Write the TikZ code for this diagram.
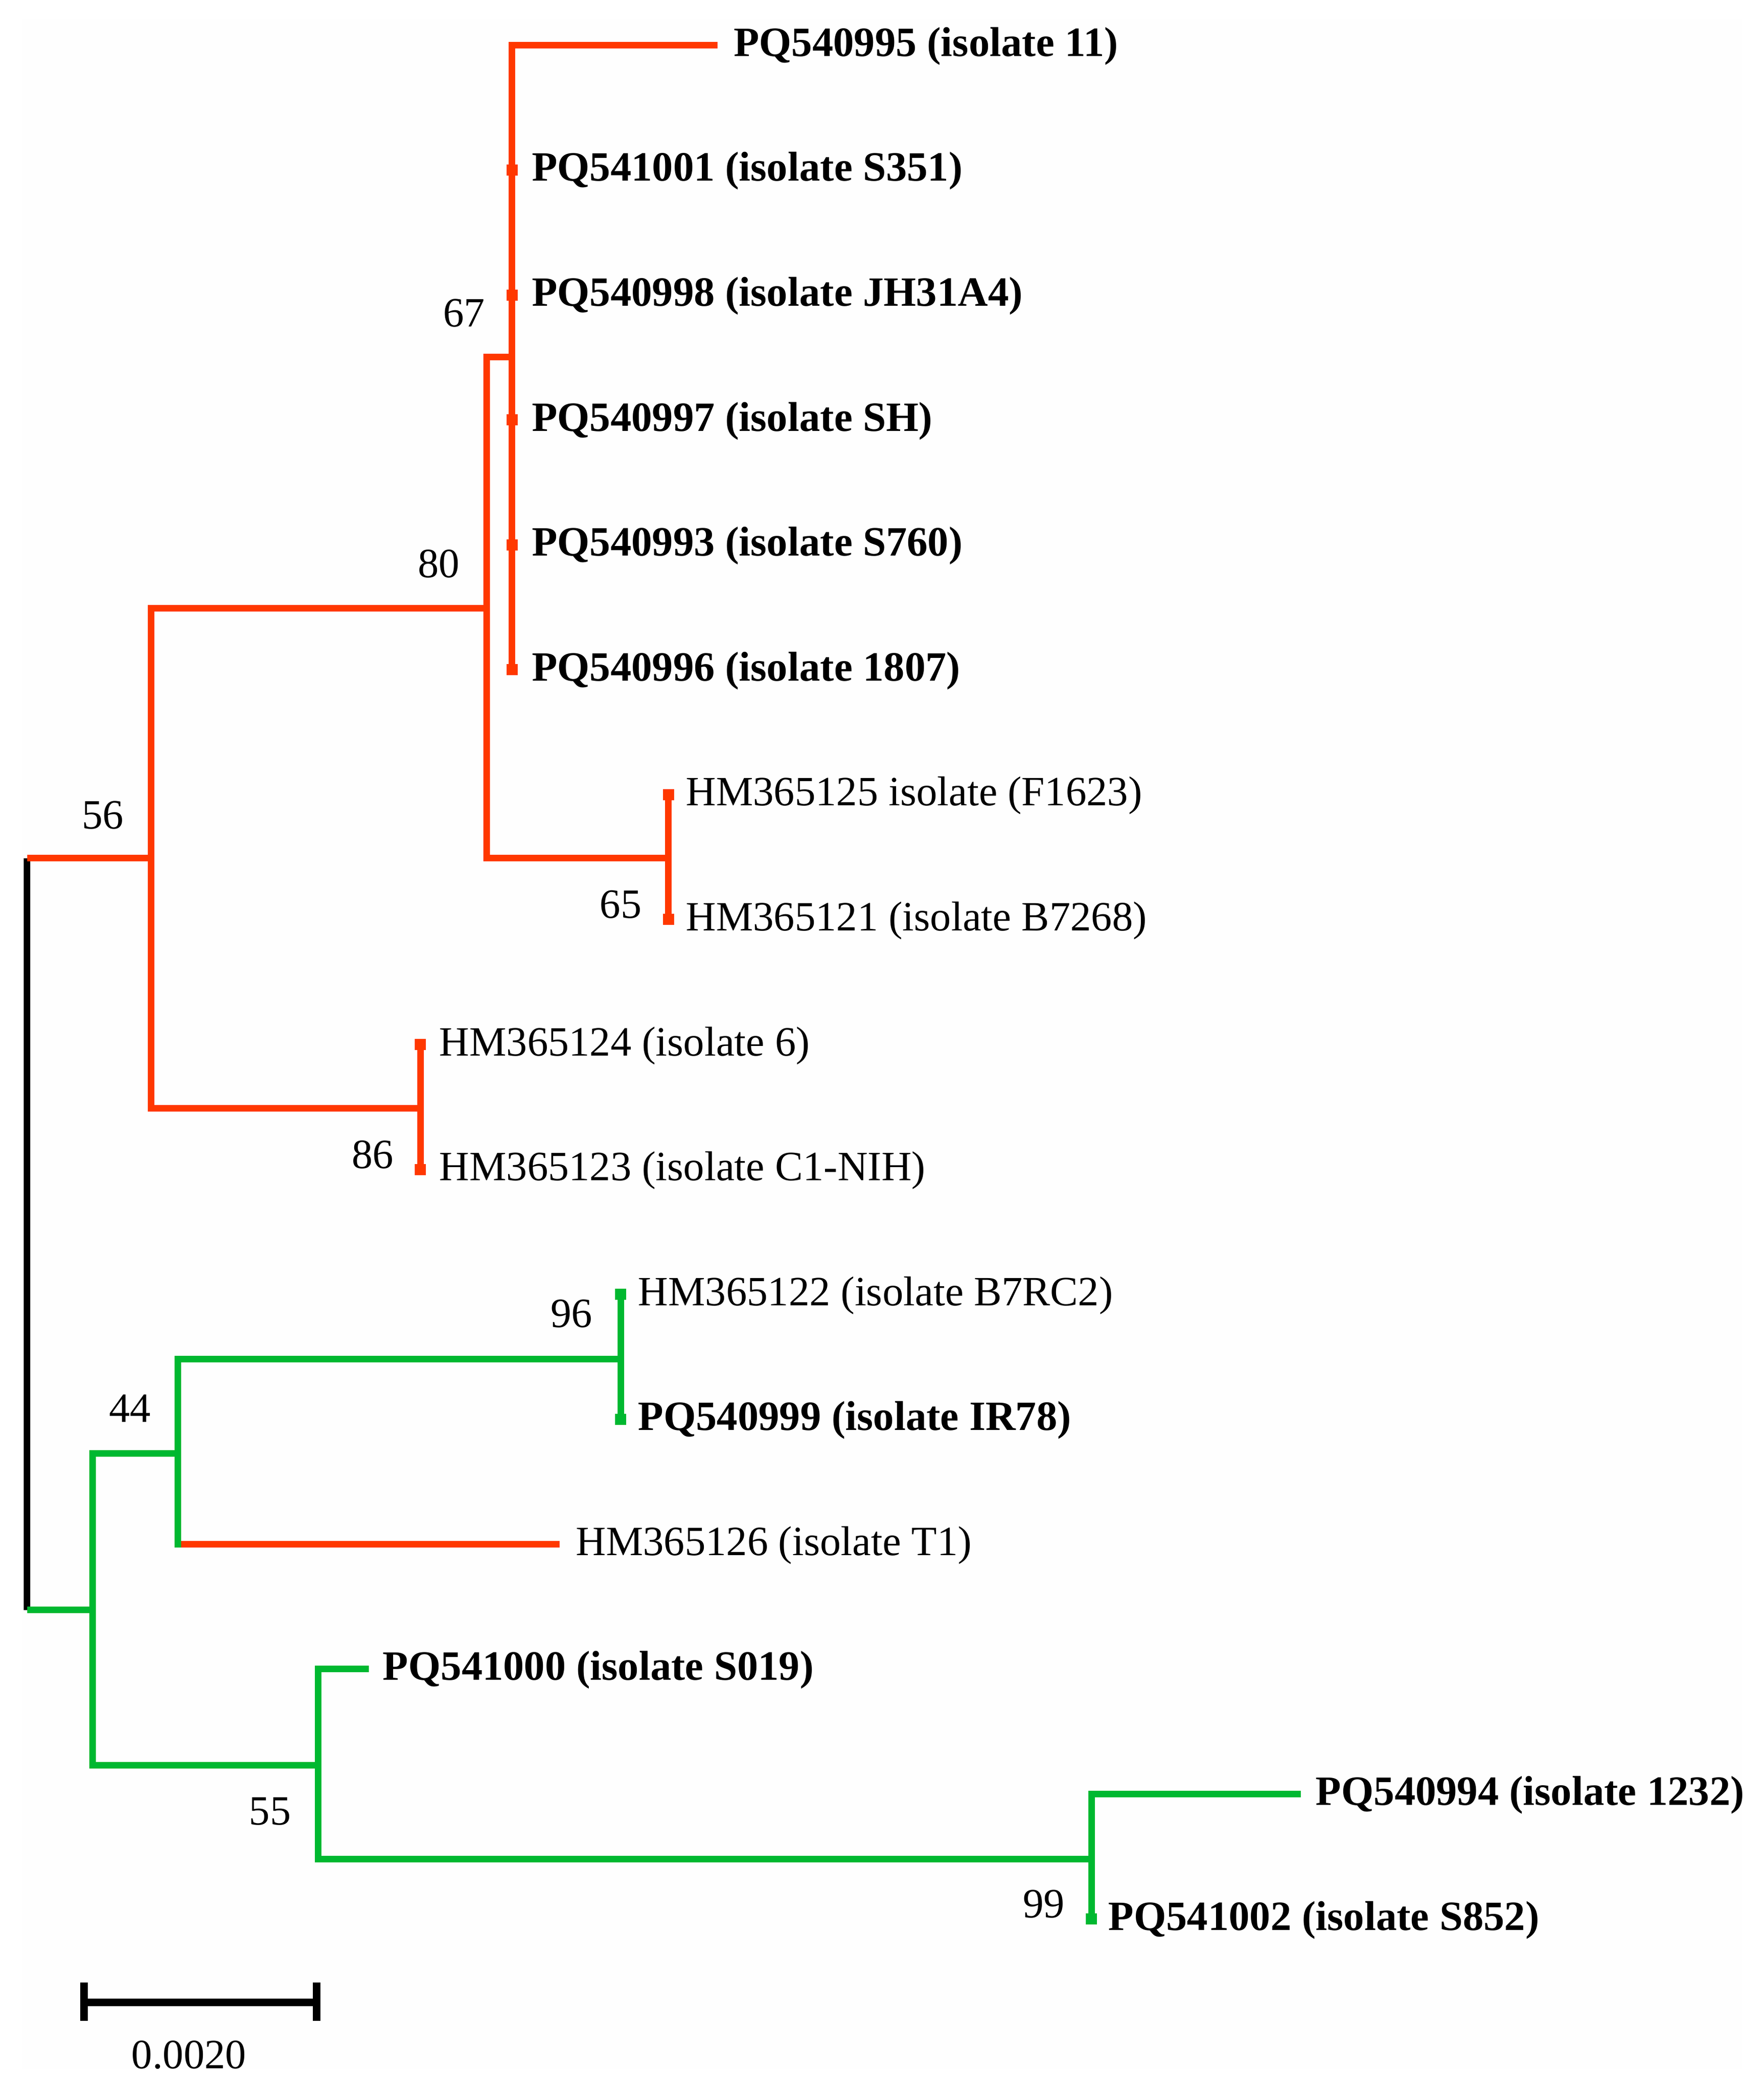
\documentclass[tikz,border=0pt]{standalone}
\usepackage{fontspec}
\setmainfont{Liberation Serif}
\usetikzlibrary{calc}
\definecolor{tred}{RGB}{255,56,0}
\definecolor{tgreen}{RGB}{0,184,48}
\definecolor{bgc}{RGB}{254,254,254}
\tikzset{
  branch/.style={line width=3.7pt, line join=miter, line cap=butt},
  redbr/.style={branch, draw=tred},
  greenbr/.style={branch, draw=tgreen},
  blackbr/.style={branch, draw=black},
  tip/.style={inner sep=0pt, minimum size=0.22cm, draw=none},
  lbl/.style={anchor=base west, inner sep=0pt, yshift=-0.22cm, font=\fontsize{23.5}{28}\selectfont},
  blbl/.style={lbl, font=\fontsize{23.5}{28}\selectfont\bfseries},
  boot/.style={inner sep=0pt, font=\fontsize{23.5}{28}\selectfont},
}
\begin{document}
\begin{tikzpicture}[x=0.02628cm, y=-0.02628cm]
\useasboundingbox (0,0) rectangle (1330,1579);
\fill[bgc] (17,15) rectangle (1313,1560);

% internal nodes
\coordinate (rt) at (20.4,647);
\coordinate (rb) at (20.4,1214);
\coordinate (A) at (114,647);
\coordinate (B) at (367,458.6);
\coordinate (C) at (386,269);
\coordinate (D) at (504,647);
\coordinate (E) at (317,835.6);
\coordinate (F) at (70,1214);
\coordinate (G) at (134,1096);
\coordinate (Gb) at (134,1164.4);
\coordinate (H) at (468,1025);
\coordinate (I) at (240,1331);
\coordinate (J) at (823,1402);

% leaf tips
\coordinate (t0) at (541,34);
\node[tip, fill=tred] (t1) at (386,128.2) {};
\node[tip, fill=tred] (t2) at (386,222.4) {};
\node[tip, fill=tred] (t3) at (386,316.6) {};
\node[tip, fill=tred] (t4) at (386,410.8) {};
\node[tip, fill=tred] (t5) at (386,505) {};
\node[tip, fill=tred] (t6) at (504,599.2) {};
\node[tip, fill=tred] (t7) at (504,693.4) {};
\node[tip, fill=tred] (t8) at (317,787.6) {};
\node[tip, fill=tred] (t9) at (317,881.8) {};
\node[tip, fill=tgreen] (t10) at (468,976) {};
\node[tip, fill=tgreen] (t11) at (468,1070.2) {};
\coordinate (t12) at (422,1164.4);
\coordinate (t13) at (278,1258.6);
\coordinate (t14) at (981,1352.8);
\node[tip, fill=tgreen] (t15) at (823,1447) {};

% branches
\draw[blackbr] (rt) -- (rb);
\draw[redbr] (rt) -- (A);
\draw[redbr] (B) -| (A) |- (E);
\draw[redbr] (C) -| (B) |- (D);
\draw[redbr] (t0) -| (C) |- (t5.center);
\draw[redbr] (t6.center) -- (D) -- (t7.center);
\draw[redbr] (t8.center) -- (E) -- (t9.center);
\draw[greenbr] (rb) -- (F);
\draw[greenbr] (G) -| (F) |- (I);
\draw[redbr] (Gb) -- (t12);
\draw[greenbr, line cap=rect] (H) -| (G) -- (Gb);
\draw[greenbr] (t10.center) -- (H) -- (t11.center);
\draw[greenbr] (t13) -| (I) |- (J);
\draw[greenbr] (t14) -| (J) |- (t15.center);

% leaf labels
\node[blbl] (n0) at (553,34) {PQ540995 (isolate 11)};
\node[blbl] (n1) at (400.8,128.2) {PQ541001 (isolate S351)};
\node[blbl] (n2) at (400.8,222.4) {PQ540998 (isolate JH31A4)};
\node[blbl] (n3) at (400.8,316.6) {PQ540997 (isolate SH)};
\node[blbl] (n4) at (400.8,410.8) {PQ540993 (isolate S760)};
\node[blbl] (n5) at (400.8,505) {PQ540996 (isolate 1807)};
\node[lbl] (n6) at (517,599.2) {HM365125 isolate (F1623)};
\node[lbl] (n7) at (517,693.4) {HM365121 (isolate B7268)};
\node[lbl] (n8) at (331,787.6) {HM365124 (isolate 6)};
\node[lbl] (n9) at (331,881.8) {HM365123 (isolate C1-NIH)};
\node[lbl] (n10) at (481,976) {HM365122 (isolate B7RC2)};
\node[blbl] (n11) at (481,1070.2) {PQ540999 (isolate IR78)};
\node[lbl] (n12) at (434,1164.4) {HM365126 (isolate T1)};
\node[blbl] (n13) at (288.5,1258.6) {PQ541000 (isolate S019)};
\node[blbl] (n14) at (992,1352.8) {PQ540994 (isolate 1232)};
\node[blbl] (n15) at (835.6,1447) {PQ541002 (isolate S852)};

% bootstrap values
\node[boot] (b56) at (77.5,614.5) {56};
\node[boot] (b80) at (331,425) {80};
\node[boot] (b67) at (350,236) {67};
\node[boot] (b65) at (468,682) {65};
\node[boot] (b86) at (281,870.6) {86};
\node[boot] (b96) at (431,990.6) {96};
\node[boot] (b44) at (98,1062) {44};
\node[boot] (b55) at (203.6,1366) {55};
\node[boot] (b99) at (787,1435.7) {99};

% scale bar
\coordinate (s1) at (63.5,1510);
\coordinate (s2) at (238.6,1510);
\draw[line width=4.3pt] (s1) -- (s2);
\draw[line width=4.3pt] ($(s1)+(0,-15)$) -- ($(s1)+(0,14)$);
\draw[line width=4.3pt] ($(s2)+(0,-15)$) -- ($(s2)+(0,14)$);
\node[boot] (sl) at (142.5,1549.5) {0.0020};
\end{tikzpicture}
\end{document}
